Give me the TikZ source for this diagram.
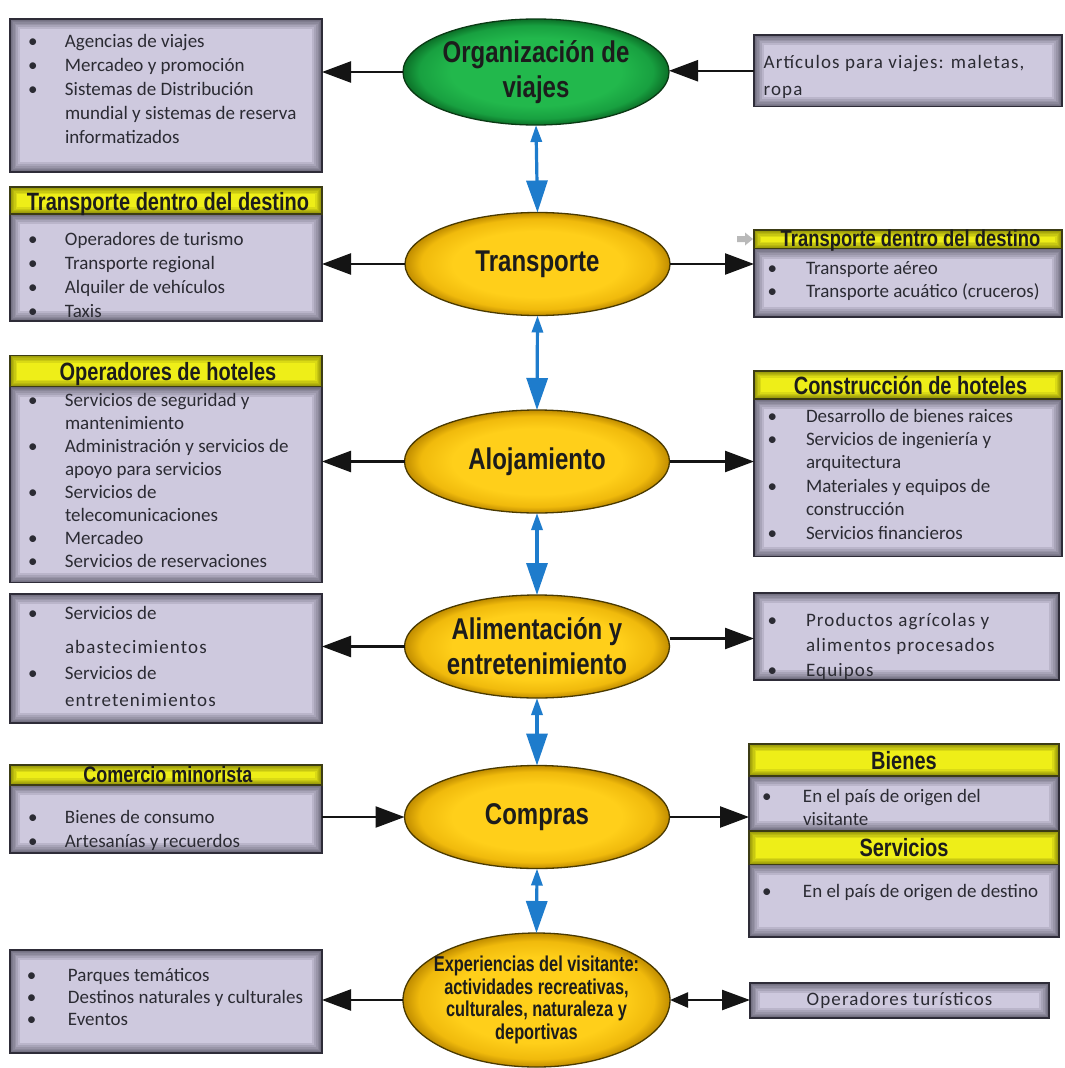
\documentclass[tikz,border=0pt]{standalone}
\usepackage{fontspec}
\setmainfont{Carlito}
\newfontfamily\wfont{Carlito}[LetterSpace=6]
\newfontfamily\hfont{Liberation Sans}[FakeStretch=0.8]
\newfontfamily\xfont{Liberation Sans}[FakeStretch=0.76]
\usetikzlibrary{shapes.geometric,arrows.meta}
\definecolor{ink}{HTML}{1C1C1C}
\definecolor{txtc}{HTML}{2B2B33}
\definecolor{boxfill}{HTML}{CEC9DE}
\definecolor{boxdark}{HTML}{2E2C3A}
\definecolor{boxedge}{HTML}{2E2C38}
\definecolor{hdfill}{HTML}{EEEE18}
\definecolor{hddark}{HTML}{4A4A00}
\definecolor{hdedge}{HTML}{3C3C14}
\definecolor{ylight}{HTML}{FFCF1A}
\definecolor{ymid}{HTML}{F0BA0C}
\definecolor{ydark}{HTML}{C08C00}
\definecolor{yline}{HTML}{4A3A00}
\definecolor{glight}{HTML}{22B84C}
\definecolor{gmid}{HTML}{18A040}
\definecolor{gdark}{HTML}{0C7028}
\definecolor{gline}{HTML}{0A3A14}
\definecolor{bluec}{HTML}{1E7CCC}
\pgfdeclareradialshading{yshade}{\pgfpoint{0bp}{0bp}}{color(0bp)=(ylight); color(16bp)=(ylight); color(22bp)=(ymid); color(25bp)=(ydark); color(50bp)=(ydark)}
\pgfdeclareradialshading{gshade}{\pgfpoint{0bp}{0bp}}{color(0bp)=(glight); color(16bp)=(glight); color(22bp)=(gmid); color(25bp)=(gdark); color(50bp)=(gdark)}
\begin{document}
\begin{tikzpicture}[x=1pt,y=-1pt,
  every node/.style={inner sep=0pt,outer sep=0pt},
  bx/.style={rectangle,fill=boxfill,draw=boxedge,line width=1.3pt,
    path picture={
      \foreach \w in {20,16,12,9,6,3.5,1.5}
        \draw[boxdark,opacity=0.12,line width=\w pt] (path picture bounding box.south west) rectangle (path picture bounding box.north east);}},
  hd/.style={rectangle,fill=hdfill,draw=hdedge,line width=1.3pt,
    path picture={
      \foreach \w in {14,11,8,5.5,3.5,1.5}
        \draw[hddark,opacity=0.12,line width=\w pt] (path picture bounding box.south west) rectangle (path picture bounding box.north east);}},
  ell/.style={ellipse,draw=yline,line width=1.3pt,shade,shading=yshade,minimum width=265pt,minimum height=103pt},
  gell/.style={ellipse,draw=gline,line width=1.3pt,shade,shading=gshade,minimum width=266pt,minimum height=106pt},
  etxt/.style={align=center,text=ink,font=\hfont\bfseries\fontsize{30}{35}\selectfont},
  htxt/.style={anchor=base,text=ink,font=\hfont\bfseries\fontsize{25}{28}\selectfont},
  txt/.style={anchor=base west,text=txtc,font=\fontsize{19}{24}\selectfont},
  blk/.style={draw=black!92,line width=2.4pt,arrows={-Triangle[length=29pt,width=21pt]}},
  blu/.style={draw=bluec,line width=3.2pt,arrows={Triangle[length=17pt,width=11pt]-Triangle[length=32pt,width=21pt]}}
]
\useasboundingbox (0,0) rectangle (1065,1068);
\fill[white] (0,0) rectangle (1065,1068);

% ---------- central ellipses ----------
\node[gell] (e1) at (536,72) {};
\node[ell] (e2) at (537.5,264) {};
\node[ell] (e3) at (537,461.5) {};
\node[ell] (e4) at (537,646.5) {};
\node[ell] (e5) at (537,817) {};
\node[ell,minimum width=267pt,minimum height=134pt] (e6) at (536.5,1000) {};

\node[etxt] (t1) at (e1) {Organización de\\viajes};
\node[etxt] (t2) at (e2) {Transporte};
\node[etxt] (t3) at (e3) {Alojamiento};
\node[etxt] (t4) at (e4) {Alimentación y\\entretenimiento};
\node[etxt] (t5) at (e5) {Compras};
\node[align=center,text=ink,font=\xfont\bfseries\fontsize{21.5}{22.7}\selectfont] (t6) at (e6) {Experiencias del visitante:\\actividades recreativas,\\culturales, naturaleza y\\deportivas};

% ---------- left boxes ----------
\node[bx,minimum width=312pt,minimum height=153pt] (L1) at (166,95.5) {};
\node[txt] (L1t) at (28,47) {\begin{tabular}[t]{@{}p{37pt}@{}l@{}}•&Agencias de viajes\\•&Mercadeo y promoción\\•&Sistemas de Distribución\\&mundial y sistemas de reserva\\&informatizados\end{tabular}};

\node[bx,minimum width=312pt,minimum height=107pt] (L2b) at (166,267.5) {};
\node[hd,minimum width=312pt,minimum height=27pt] (L2h) at (166,200.5) {};
\node[htxt] (L2ht) at (168,210) {Transporte dentro del destino};
\node[txt,font=\fontsize{19}{24}\selectfont] (L2t) at (28,245) {\begin{tabular}[t]{@{}p{37pt}@{}l@{}}•&Operadores de turismo\\•&Transporte regional\\•&Alquiler de vehículos\\•&Taxis\end{tabular}};

\node[bx,minimum width=312pt,minimum height=196pt] (L3b) at (166,484.8) {};
\node[hd,minimum width=312pt,minimum height=31pt] (L3h) at (166,371) {};
\node[htxt] (L3ht) at (168,380) {Operadores de hoteles};
\node[txt,font=\fontsize{19}{23.1}\selectfont] (L3t) at (28,406) {\begin{tabular}[t]{@{}p{37pt}@{}l@{}}•&Servicios de seguridad y\\&mantenimiento\\•&Administración y servicios de\\&apoyo para servicios\\•&Servicios de\\&telecomunicaciones\\•&Mercadeo\\•&Servicios de reservaciones\end{tabular}};

\node[bx,minimum width=312pt,minimum height=129pt] (L4) at (166,658.5) {};
\node[txt,font=\fontsize{19}{26.5}\selectfont] (L4t) at (28,619) {\begin{tabular}[t]{@{}p{37pt}@{}l@{}}•&Servicios de\\[7.5pt]&{\wfont abastecimientos}\\•&Servicios de\\&{\wfont entretenimientos}\end{tabular}};

\node[bx,minimum width=312pt,minimum height=68pt] (L5b) at (166,819) {};
\node[hd,minimum width=312pt,minimum height=20pt] (L5h) at (166,775) {};
\node[anchor=base,text=ink,font=\hfont\bfseries\fontsize{22.5}{26}\selectfont] (L5ht) at (168,782) {Comercio minorista};
\node[txt] (L5t) at (28,823) {\begin{tabular}[t]{@{}p{37pt}@{}l@{}}•&Bienes de consumo\\•&Artesanías y recuerdos\end{tabular}};

\node[bx,minimum width=312pt,minimum height=103pt] (L6) at (166,1001.5) {};
\node[txt,font=\fontsize{19}{22}\selectfont] (L6t) at (27,981) {\begin{tabular}[t]{@{}p{41pt}@{}l@{}}•&Parques temáticos\\•&Destinos naturales y culturales\\•&Eventos\end{tabular}};

% ---------- right boxes ----------
\node[bx,minimum width=308pt,minimum height=71.5pt] (R1) at (908,70.75) {};
\node[txt,font=\wfont\fontsize{19}{27}\selectfont] (R1t) at (763.6,68) {\begin{tabular}[t]{@{}l@{}}Artículos para viajes: maletas,\\ropa\end{tabular}};

\node[bx,minimum width=308pt,minimum height=68.4pt] (R2b) at (908,282.8) {};
\node[hd,minimum width=308pt,minimum height=18.6pt] (R2h) at (908,239.3) {};
\node[anchor=base,text=ink,font=\hfont\bfseries\fontsize{23}{26}\selectfont] (R2ht) at (910.5,246.5) {Transporte dentro del destino};
\node[txt,font=\fontsize{19}{23}\selectfont] (R2t) at (767.6,274) {\begin{tabular}[t]{@{}p{38.4pt}@{}l@{}}•&Transporte aéreo\\•&Transporte acuático (cruceros)\end{tabular}};
\fill[gray!55] (737,236) -- (745,236) -- (745,232.5) -- (753,239) -- (745,245.5) -- (745,242) -- (737,242) -- cycle;

\node[bx,minimum width=308pt,minimum height=157.6pt] (R3b) at (908,477.8) {};
\node[hd,minimum width=308pt,minimum height=28.2pt] (R3h) at (908,385) {};
\node[htxt] (R3ht) at (910.5,394) {Construcción de hoteles};
\node[txt,font=\fontsize{19}{23.4}\selectfont] (R3t) at (767.6,422) {\begin{tabular}[t]{@{}p{38.4pt}@{}l@{}}•&Desarrollo de bienes raices\\•&Servicios de ingeniería y\\&arquitectura\\•&Materiales y equipos de\\&construcción\\•&Servicios financieros\end{tabular}};

\node[bx,minimum width=305pt,minimum height=87pt] (R4) at (906.5,636.5) {};
\node[txt,font=\wfont\fontsize{19}{25}\selectfont] (R4t) at (767.6,626) {\begin{tabular}[t]{@{}p{38.4pt}@{}l@{}}•&Productos agrícolas y\\&alimentos procesados\\•&Equipos\end{tabular}};

\node[bx,minimum width=310pt,minimum height=55pt] (R5a) at (904,803.5) {};
\node[hd,minimum width=310pt,minimum height=32pt] (R5h) at (904,760) {};
\node[htxt] (R5ht) at (904,769) {Bienes};
\node[txt,font=\fontsize{19}{23}\selectfont] (R5at) at (762,802) {\begin{tabular}[t]{@{}p{41pt}@{}l@{}}•&En el país de origen del\\&visitante\end{tabular}};
\node[bx,minimum width=310pt,minimum height=72.4pt] (R5b) at (904,900.8) {};
\node[hd,minimum width=310pt,minimum height=33.6pt] (R5g) at (904,847.8) {};
\node[htxt] (R5gt) at (904,856.5) {Servicios};
\node[txt] (R5bt) at (762,897) {\begin{tabular}[t]{@{}p{41pt}@{}l@{}}•&En el país de origen de destino\end{tabular}};

\node[bx,minimum width=299pt,minimum height=35pt] (Op) at (899.5,1000.5) {};
\node[text=txtc,font=\wfont\fontsize{19}{24}\selectfont] (Opt) at (Op) {Operadores turísticos};

% ---------- connectors ----------
\draw[blu] (e1.south) -- (e2.north);
\draw[blu] (e2.south) -- (e3.north);
\draw[blu] (e3.south) -- (e4.north);
\draw[blu] (e4.south) -- (e5.north);
\draw[blu] (e5.south) -- (e6.north);

\draw[blk] (e1.west) -- (e1.west -| L1.east);
\draw[blk] (R1.west) -- (R1.west -| e1.east);
\draw[blk] (e2.west) -- (e2.west -| L2b.east);
\draw[blk] (e2.east) -- (e2.east -| R2b.west);
\draw[blk] (e3.west) -- (e3.west -| L3b.east);
\draw[blk] (e3.east) -- (e3.east -| R3b.west);
\draw[blk] (e4.west) -- (e4.west -| L4.east);
\draw[blk] ([yshift=8pt]e4.east) -- ([yshift=8pt]e4.east -| R4.west);
\draw[blk] (e5.west -| L5b.east) -- (e5.west);
\draw[blk] (e5.east) -- (e5.east -| R5a.west);
\draw[blk] (e6.west) -- (e6.west -| L6.east);
\draw[draw=black!92,line width=2.4pt,arrows={Triangle[length=18pt,width=15pt]-Triangle[length=28pt,width=20pt]}] (e6.east) -- (e6.east -| Op.west);
\end{tikzpicture}
\end{document}
